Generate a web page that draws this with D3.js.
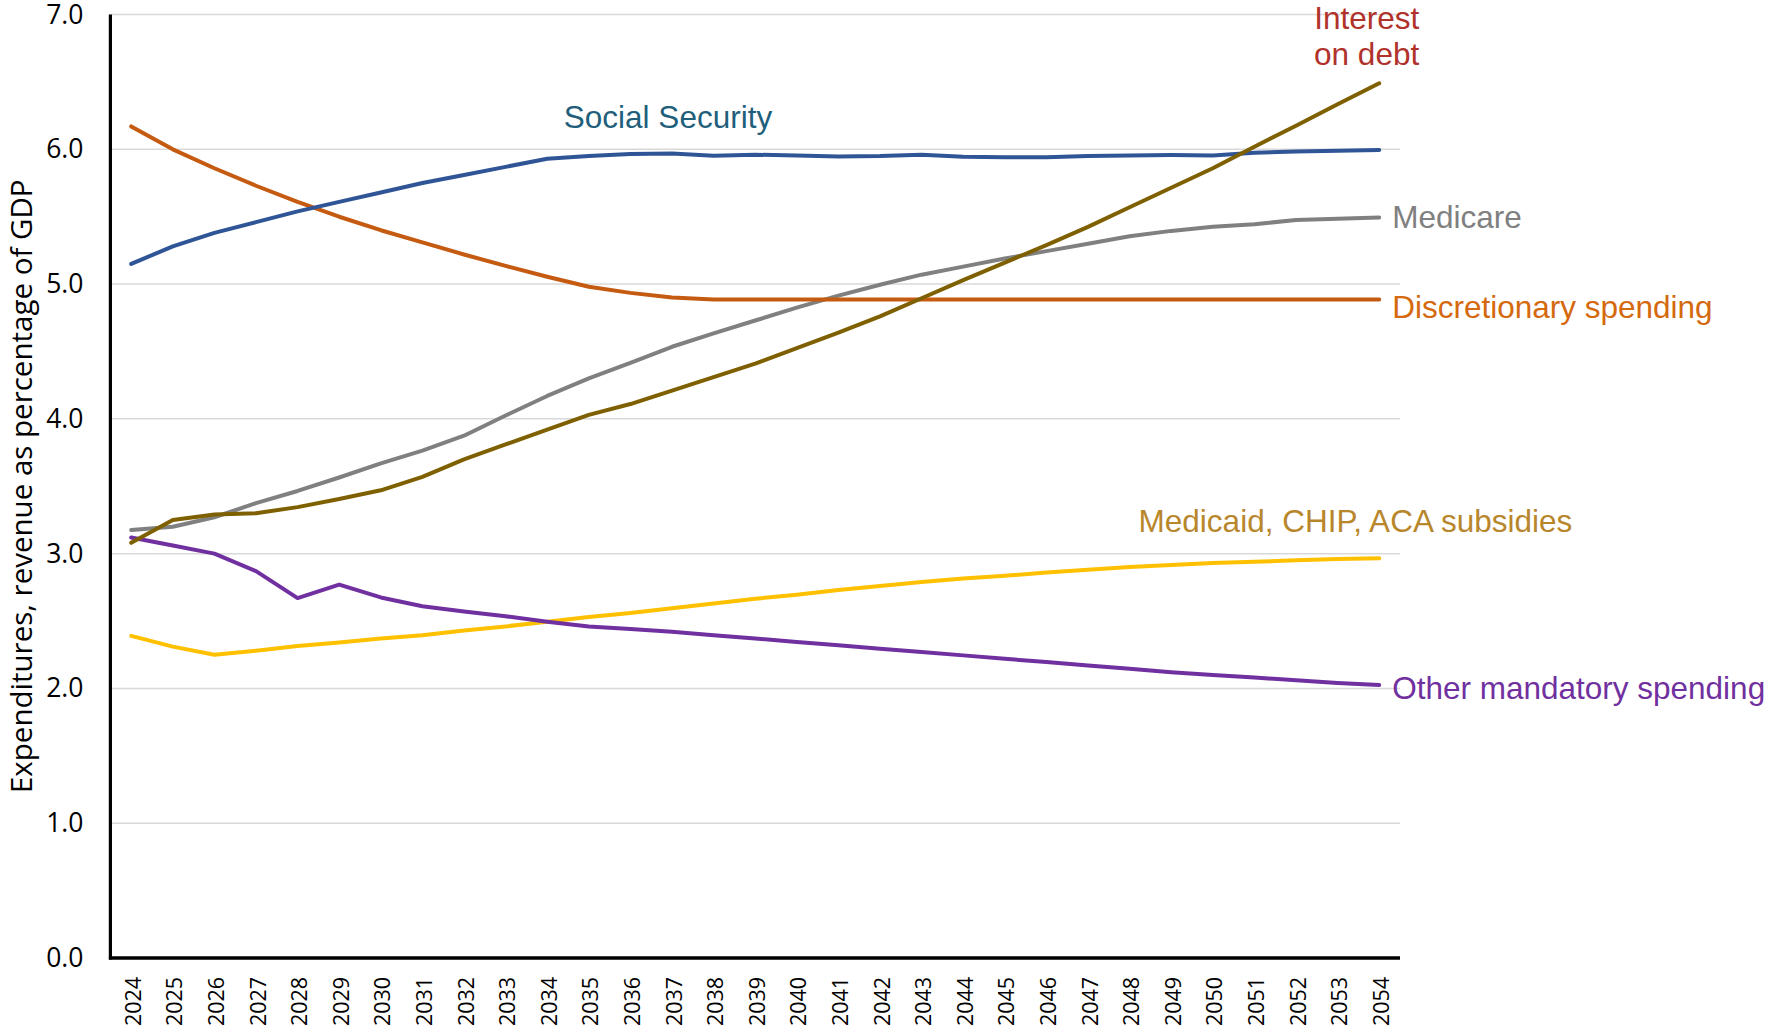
<!DOCTYPE html>
<html>
<head>
<meta charset="utf-8">
<script src="https://cdn.jsdelivr.net/npm/d3@7"></script>
<style>
  html, body { margin: 0; padding: 0; background: #fff; }
  svg { display: block; }
</style>
</head>
<body>
<svg id="chart" width="1767" height="1030"></svg>
<script>
// Federal spending categories, percent of GDP, 2024–2054
const years = d3.range(2024, 2055).map(String);

const socialSecurity = [5.15, 5.28, 5.38, 5.46, 5.54, 5.61, 5.68, 5.75, 5.81, 5.87, 5.93, 5.95,
  5.965, 5.97, 5.953, 5.96, 5.955, 5.947, 5.95, 5.96, 5.945, 5.942, 5.942, 5.95, 5.955, 5.958,
  5.955, 5.975, 5.985, 5.99, 5.996];

const discretionary = [6.17, 6.00, 5.86, 5.73, 5.61, 5.50, 5.40, 5.31, 5.22, 5.135, 5.055, 4.98,
  4.935, 4.90, 4.885, 4.885, 4.885, 4.885, 4.885, 4.885, 4.885, 4.885, 4.885, 4.885, 4.885,
  4.885, 4.885, 4.885, 4.885, 4.885, 4.885];

const medicare = [3.175, 3.2, 3.27, 3.375, 3.465, 3.565, 3.67, 3.765, 3.875, 4.025, 4.17, 4.30,
  4.415, 4.535, 4.635, 4.73, 4.825, 4.915, 4.995, 5.07, 5.13, 5.19, 5.245, 5.30, 5.355, 5.395,
  5.425, 5.445, 5.475, 5.485, 5.495];

const interestOnDebt = [3.08, 3.25, 3.29, 3.30, 3.345, 3.405, 3.47, 3.57, 3.70, 3.81, 3.92, 4.03,
  4.11, 4.21, 4.31, 4.41, 4.525, 4.64, 4.76, 4.895, 5.03, 5.16, 5.29, 5.425, 5.57, 5.715, 5.86,
  6.02, 6.175, 6.335, 6.49];

const medicaid = [2.39, 2.31, 2.25, 2.28, 2.315, 2.34, 2.37, 2.395, 2.43, 2.46, 2.495, 2.53,
  2.56, 2.595, 2.63, 2.665, 2.695, 2.73, 2.76, 2.79, 2.815, 2.835, 2.86, 2.88, 2.9, 2.915, 2.93,
  2.94, 2.95, 2.96, 2.965];

const otherMandatory = [3.12, 3.06, 3.00, 2.87, 2.67, 2.77, 2.675, 2.61, 2.57, 2.535, 2.495, 2.46,
  2.44, 2.42, 2.395, 2.37, 2.345, 2.32, 2.295, 2.27, 2.245, 2.22, 2.195, 2.17, 2.145, 2.12, 2.1,
  2.08, 2.06, 2.04, 2.025];

const yTicks = [0, 1, 2, 3, 4, 5, 6, 7];
const yTitle = "Expenditures, revenue as percentage of GDP";

// Series in drawing order (later ones sit on top)
const series = [
  { name: "Medicaid, CHIP, ACA subsidies", values: medicaid, line: "#FFC000", text: "#B8862B" },
  { name: "Other mandatory spending", values: otherMandatory, line: "#7030A0", text: "#7030A0" },
  { name: "Medicare", values: medicare, line: "#808080", text: "#808080" },
  { name: "Discretionary spending", values: discretionary, line: "#C55A11", text: "#D4690E" },
  { name: "Social Security", values: socialSecurity, line: "#2F5597", text: "#1F5F7B" },
  { name: "Interest on debt", values: interestOnDebt, line: "#7F6000", text: "#B0322B" }
];

const svg = d3.select("#chart");
const plotLeft = 110.4, plotRight = 1400, plotTop = 14.6, plotBottom = 957.9;

const x = d3.scaleBand().domain(years).range([plotLeft, plotRight]).padding(0);
const cx = d => x(d) + x.bandwidth() / 2;
const y = d3.scaleLinear().domain([0, 7]).range([plotBottom, plotTop]);

// Horizontal gridlines
svg.append("g")
  .selectAll("line")
  .data(yTicks.filter(t => t > 0))
  .join("line")
  .attr("x1", plotLeft).attr("x2", plotRight)
  .attr("y1", d => y(d)).attr("y2", d => y(d))
  .attr("stroke", "#D9D9D9").attr("stroke-width", 1.5);

// Y axis with one-decimal labels
const yAxis = d3.axisLeft(y).tickValues(yTicks).tickFormat(d3.format(".1f")).tickSize(0).tickPadding(27);
const gy = svg.append("g").attr("transform", `translate(${plotLeft},0)`).call(yAxis);
gy.select(".domain").remove();
gy.selectAll("text")
  .attr("font-family", "'Open Sans', sans-serif")
  .attr("font-size", 26.5)
  .attr("fill", "#000");

// X axis with rotated year labels
const xAxis = d3.axisBottom(x).tickSize(0).tickPadding(0);
const gx = svg.append("g").attr("transform", `translate(0,${plotBottom})`).call(xAxis);
gx.select(".domain").remove();
gx.selectAll("text")
  .attr("font-family", "'Open Sans', sans-serif")
  .attr("font-size", 21.5)
  .attr("fill", "#000")
  .attr("text-anchor", "end")
  .attr("dominant-baseline", "central")
  .attr("dy", null)
  .attr("y", 0)
  .attr("transform", "translate(1,19) rotate(-90)");

// Axis lines
svg.append("line")
  .attr("x1", plotLeft).attr("x2", plotLeft)
  .attr("y1", plotTop).attr("y2", plotBottom + 1.5)
  .attr("stroke", "#000").attr("stroke-width", 3.2);
svg.append("line")
  .attr("x1", plotLeft - 1.5).attr("x2", plotRight)
  .attr("y1", plotBottom).attr("y2", plotBottom)
  .attr("stroke", "#000").attr("stroke-width", 3.5);

// Y axis title
svg.append("text")
  .attr("transform", `translate(20.5,${(plotTop + plotBottom) / 2}) rotate(-90)`)
  .attr("text-anchor", "middle")
  .attr("dominant-baseline", "central")
  .attr("font-family", "'Open Sans', sans-serif")
  .attr("font-size", 29.5)
  .attr("fill", "#000")
  .text(yTitle);

// Series lines
const line = d3.line().x((d, i) => cx(years[i])).y(d => y(d));
svg.append("g")
  .selectAll("path")
  .data(series)
  .join("path")
  .attr("d", d => line(d.values))
  .attr("fill", "none")
  .attr("stroke", d => d.line)
  .attr("stroke-width", 4)
  .attr("stroke-linecap", "round")
  .attr("stroke-linejoin", "round");

// Series labels
const labelFont = "'Liberation Sans', Arial, sans-serif";
const last = years[years.length - 1];
const byName = Object.fromEntries(series.map(s => [s.name, s]));
const endX = cx(last) + 13;
const lbl = svg.append("g").attr("font-family", labelFont).attr("font-size", 31.5);

function endLabel(name, value, dy) {
  lbl.append("text")
    .attr("x", endX)
    .attr("y", y(value) + dy)
    .attr("fill", byName[name].text)
    .text(name);
}
endLabel("Medicare", medicare[medicare.length - 1], 10.5);
endLabel("Discretionary spending", discretionary[discretionary.length - 1], 18);
endLabel("Other mandatory spending", otherMandatory[otherMandatory.length - 1], 14);

lbl.append("text")
  .attr("x", cx("2037") - 4)
  .attr("y", y(6.16))
  .attr("text-anchor", "middle")
  .attr("fill", byName["Social Security"].text)
  .text("Social Security");

lbl.append("text")
  .attr("x", cx("2048") + 9)
  .attr("y", y(2.99) - 23)
  .attr("fill", byName["Medicaid, CHIP, ACA subsidies"].text)
  .text("Medicaid, CHIP, ACA subsidies");

const interestLabel = lbl.append("text")
  .attr("text-anchor", "end")
  .attr("fill", byName["Interest on debt"].text);
interestLabel.append("tspan").attr("x", cx(last) + 40).attr("y", 28.5).text("Interest");
interestLabel.append("tspan").attr("x", cx(last) + 40).attr("y", 64.5).text("on debt");
</script>
</body>
</html>
